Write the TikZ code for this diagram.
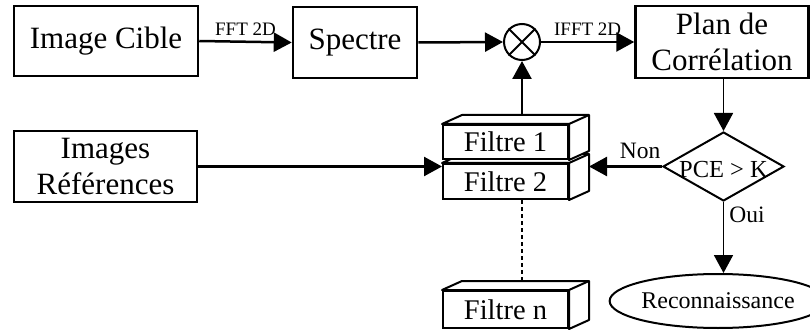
\documentclass[tikz,border=0pt]{standalone}
\usepackage{fontspec}
\setmainfont{Liberation Serif}
\usetikzlibrary{arrows.meta,calc,shapes.geometric}
\tikzset{
  blk/.style={draw, line width=2.5pt, inner sep=0pt, align=center, font=\fontsize{31}{36}\selectfont},
  fltr/.style={draw, line width=2pt, fill=white, inner sep=0pt, minimum width=125pt, font=\fontsize{28.5}{30}\selectfont},
  conn/.style={line width=2.5pt, -{Triangle[length=18pt,width=19pt]}},
  thinconn/.style={line width=1.8pt, -{Triangle[length=18pt,width=19pt]}},
  lbl/.style={inner sep=0pt, font=\fontsize{19}{20}\selectfont},
  mlbl/.style={inner sep=0pt, font=\fontsize{23.5}{25}\selectfont}
}
\newcommand{\cubeface}[1]{%
  \draw[line width=2pt, fill=white, line join=round]
    (#1.north west) -- ++(20pt,9pt) -- ($(#1.north east)+(20pt,9pt)$)
    -- ($(#1.south east)+(20pt,9pt)$) -- (#1.south east) -- (#1.north east) -- cycle;
  \draw[line width=2pt] (#1.north east) -- ++(20pt,9pt);
}
\begin{document}
\begin{tikzpicture}[x=1pt,y=-1pt]
\useasboundingbox (0,0) rectangle (810,331);
% top row
\node[blk, minimum width=184pt, minimum height=70pt] (cible) at (106,41) {Image Cible};
\node[blk, minimum width=124pt, minimum height=71pt] (spectre) at (355,42.5) {Spectre};
\node[draw, circle, line width=2pt, minimum size=36pt, inner sep=0pt] (mult) at (522,42) {};
\draw[line width=2pt] (mult.45) -- (mult.225) (mult.135) -- (mult.315);
\node[blk, minimum width=173pt, minimum height=72pt] (plan) at (722,42) {Plan de\\Corrélation};
% left
\node[blk, minimum width=183pt, minimum height=71pt] (refs) at (105.5,166.5) {Images\\Références};
% filters
\node[fltr, minimum height=37pt] (fn) at (505.5,309.5) {Filtre n};
\cubeface{fn}
\node[fltr, minimum height=35pt] (f2) at (505.5,181.5) {Filtre 2};
\cubeface{f2}
\node[fltr, minimum height=34pt] (f1) at (505.5,142) {Filtre 1};
\cubeface{f1}
\coordinate (f1t) at ($(f1.north)+(0,9pt)$);
\coordinate (fnt) at ($(fn.north)+(0,9pt)$);
\coordinate (f2r) at ($(f2.north east)+(20pt,0)$);
% decision
\node[draw, diamond, line width=2pt, minimum width=121pt, minimum height=69pt, inner sep=0pt,
  label={[font=\fontsize{24.5}{26}\selectfont, yshift=-3pt]center:PCE > K}] (dec) at (723.5,166.5) {};
\node[draw, ellipse, line width=2pt, minimum width=173pt, minimum height=54pt, inner sep=0pt,
  font=\fontsize{24}{26}\selectfont] (reco) at (718,301) {Reconnaissance};
% connectors
\draw[conn] (cible.east) -- node[lbl, above=5pt] {FFT 2D} (spectre.west);
\draw[conn] (spectre.east) -- (mult.west);
\draw[conn] (mult.east) -- node[lbl, above=5pt] {IFFT 2D} (plan.west);
\draw[thinconn] (plan.south -| dec.north) -- (dec.north);
\draw[conn] (dec.west) -- node[mlbl, above=7pt, pos=0.3] {Non} (dec.west -| f2r);
\draw[thinconn] (dec.south) -- node[mlbl, right=5pt, pos=0.18] {Oui} (dec.south |- reco.north);
\draw[conn] (refs.east) -- (refs.east -| f2.west);
\draw[conn] (mult.south |- f1t) -- (mult.south);
\draw[line width=1.8pt, dash pattern=on 4pt off 3pt] (mult.south |- f2.south) -- (mult.south |- fnt);
\end{tikzpicture}
\end{document}
